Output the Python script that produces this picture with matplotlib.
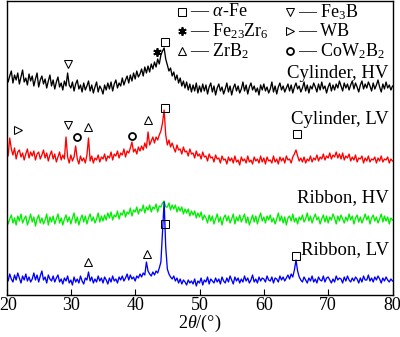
import numpy as np
import matplotlib
matplotlib.use("Agg")
import matplotlib.pyplot as plt
from matplotlib.transforms import ScaledTranslation

plt.rcParams['font.family'] = ['Liberation Serif', 'DejaVu Serif']
plt.rcParams['mathtext.fontset'] = 'custom'
plt.rcParams['mathtext.rm'] = 'Liberation Serif'
plt.rcParams['mathtext.it'] = 'Liberation Serif:italic'

# 2-theta grid (0.25 deg step, 20..80)
two_theta = np.linspace(20, 80, 241)

# intensities (arbitrary units, stacked offsets included)
cyl_hv = [
    221, 213, 219, 224, 212, 220, 215, 222, 211, 218, 225, 213, 217, 210, 221, 214,
    219, 209, 216, 222, 208, 215, 219, 211, 216, 207, 214, 220, 209, 215, 206, 213,
    218, 208, 212, 205, 214, 209, 222, 210, 207, 213, 204, 211, 215, 206, 210, 203,
    212, 205, 209, 214, 204, 210, 202, 208, 213, 203, 209, 206, 201, 210, 205, 212,
    206, 213, 204, 211, 215, 207, 212, 209, 217, 210, 215, 219, 212, 220, 214, 222,
    216, 224, 218, 221, 226, 219, 228, 222, 229, 223, 231, 226, 233, 228, 236, 231,
    240, 244, 247, 236, 230, 224, 227, 219, 223, 215, 220, 212, 217, 209, 214, 207,
    213, 205, 211, 203, 210, 204, 212, 202, 209, 203, 211, 204, 210, 201, 208, 212,
    203, 209, 200, 207, 211, 204, 208, 201, 206, 212, 203, 209, 200, 207, 211, 204,
    209, 202, 206, 213, 204, 210, 201, 208, 212, 205, 209, 203, 207, 200, 210, 205,
    211, 204, 208, 202, 206, 213, 203, 209, 201, 208, 212, 205, 209, 203, 207, 211,
    204, 210, 202, 208, 212, 206, 209, 203, 207, 213, 204, 210, 202, 209, 206, 212,
    208, 203, 211, 205, 213, 206, 209, 202, 208, 212, 204, 210, 205, 211, 207, 214,
    209, 204, 212, 207, 211, 205, 210, 214, 206, 212, 208, 203, 210, 214, 206, 211,
    207, 213, 209, 204, 212, 206, 210, 215, 208, 203, 211, 206, 213, 207, 210, 205,
    209]

cyl_lv = [
    144, 139, 157, 146, 140, 147, 136, 143, 145, 138, 142, 135, 141, 146, 137, 143,
    139, 144, 135, 141, 143, 136, 140, 145, 137, 142, 134, 140, 144, 136, 141, 133,
    138, 143, 135, 140, 136, 158, 138, 132, 140, 134, 138, 149, 136, 131, 139, 134,
    137, 132, 140, 157, 134, 139, 132, 137, 135, 140, 133, 138, 136, 141, 134, 139,
    137, 143, 135, 141, 139, 144, 137, 142, 140, 146, 138, 144, 142, 147, 153, 143,
    146, 141, 148, 144, 149, 145, 152, 147, 163, 150, 154, 158, 152, 158, 155, 160,
    164, 172, 185, 160, 150, 155, 148, 152, 147, 143, 150, 145, 146, 141, 148, 143,
    144, 139, 146, 141, 142, 137, 144, 139, 141, 136, 143, 138, 139, 134, 141, 137,
    138, 133, 140, 136, 137, 132, 139, 135, 136, 131, 138, 134, 137, 132, 139, 133,
    135, 130, 138, 134, 136, 132, 139, 133, 135, 131, 138, 134, 136, 132, 139, 133,
    137, 131, 138, 134, 135, 132, 139, 133, 136, 131, 138, 134, 137, 132, 139, 135,
    136, 132, 138, 141, 145, 139, 134, 137, 133, 138, 132, 136, 134, 139, 133, 137,
    135, 140, 134, 138, 136, 141, 135, 139, 137, 142, 136, 140, 138, 143, 137, 141,
    136, 142, 135, 139, 137, 141, 134, 138, 135, 140, 133, 137, 136, 139, 132, 137,
    134, 139, 133, 136, 135, 138, 132, 137, 134, 139, 133, 136, 135, 138, 132, 136,
    134]

rib_hv = [
    78, 71, 76, 80, 72, 77, 70, 79, 74, 81, 72, 76, 79, 70, 75, 81,
    73, 78, 69, 76, 80, 72, 77, 71, 75, 81, 70, 78, 73, 79, 71, 76,
    81, 72, 77, 70, 76, 80, 73, 78, 71, 77, 82, 72, 78, 70, 76, 80,
    73, 79, 71, 77, 81, 74, 78, 72, 76, 82, 73, 79, 74, 80, 75, 82,
    77, 83, 75, 80, 78, 84, 76, 82, 80, 85, 78, 83, 81, 87, 79, 85,
    83, 88, 81, 86, 84, 90, 82, 88, 85, 90, 83, 88, 86, 91, 83, 89,
    88, 92, 94, 88, 88, 92, 85, 90, 86, 90, 83, 88, 84, 88, 81, 86,
    82, 86, 79, 84, 80, 84, 77, 82, 78, 83, 75, 80, 77, 72, 80, 74,
    79, 71, 76, 81, 73, 78, 70, 77, 80, 74, 79, 72, 76, 81, 71, 78,
    74, 80, 73, 77, 81, 72, 78, 70, 75, 80, 73, 79, 71, 77, 82, 74,
    78, 72, 79, 75, 80, 73, 77, 71, 76, 82, 74, 79, 72, 78, 70, 77,
    79, 74, 81, 73, 77, 71, 78, 75, 80, 73, 76, 82, 74, 79, 72, 77,
    81, 75, 78, 71, 76, 80, 73, 79, 72, 78, 75, 81, 77, 71, 79, 74,
    80, 76, 72, 78, 74, 81, 75, 79, 71, 77, 80, 73, 78, 72, 76, 81,
    75, 79, 71, 77, 80, 74, 78, 72, 76, 81, 73, 79, 74, 78, 71, 77,
    75]

rib_lv = [
    19, 14, 21, 16, 13, 20, 15, 22, 17, 12, 19, 15, 21, 14, 18, 13,
    16, 22, 15, 20, 13, 19, 24, 15, 18, 12, 20, 16, 14, 19, 13, 17,
    20, 13, 16, 11, 17, 14, 19, 12, 15, 10, 18, 13, 16, 12, 19, 14,
    11, 17, 15, 23, 14, 18, 12, 16, 13, 19, 14, 17, 12, 18, 15, 11,
    17, 13, 19, 14, 16, 12, 18, 15, 19, 14, 17, 21, 15, 20, 16, 18,
    14, 19, 17, 21, 18, 22, 20, 33, 24, 21, 19, 23, 20, 24, 22, 27,
    33, 62, 93, 48, 26, 21, 18, 16, 19, 14, 17, 12, 16, 11, 15, 13,
    10, 15, 12, 14, 11, 16, 9, 14, 12, 17, 10, 15, 13, 18, 11, 16,
    14, 12, 17, 13, 16, 11, 18, 14, 12, 17, 13, 19, 15, 11, 18, 14,
    17, 12, 16, 13, 19, 14, 17, 12, 15, 20, 13, 16, 12, 18, 14, 17,
    16, 13, 19, 15, 14, 18, 12, 17, 16, 13, 19, 15, 18, 14, 17, 20,
    16, 21, 18, 25, 35, 24, 18, 15, 13, 18, 15, 12, 17, 14, 19, 13,
    16, 12, 18, 15, 14, 19, 13, 17, 18, 15, 12, 16, 13, 19, 15, 17,
    16, 12, 18, 14, 19, 15, 13, 17, 14, 18, 16, 12, 17, 13, 19, 15,
    15, 20, 14, 17, 13, 18, 15, 19, 16, 12, 17, 14, 18, 15, 13, 16,
    14]

series_names = ["Cylinder, HV", "Cylinder, LV", "Ribbon, HV", "Ribbon, LV"]
series_colors = ["#000000", "#ff0000", "#00ee00", "#0000ff"]
label_y = [222, 176, 97, 45]

# phase markers: (2theta, height, marker)
markers_pts = [
    (29.6, 231, 'v'), (43.4, 243, '*'), (44.6, 253, 's'),
    (21.8, 165, '>'), (29.6, 170, 'v'), (31.0, 158, 'o'), (32.7, 168, '^'),
    (39.5, 159, 'o'), (42.0, 175, '^'), (44.6, 187, 's'), (65.2, 161, 's'),
    (32.7, 33, '^'), (41.9, 41, '^'), (44.6, 71, 's'), (65.0, 39, 's'),
]

legend_items = [
    ('s', r"— $\alpha$-Fe", 0, 0), ('*', r"— Fe$_{23}$Zr$_6$", 0, 1),
    ('^', r"— ZrB$_2$", 0, 2), ('v', r"— Fe$_3$B", 1, 0),
    ('>', r"— WB", 1, 1), ('o', r"— CoW$_2$B$_2$", 1, 2),
]

xticks = [20, 30, 40, 50, 60, 70, 80]

fig = plt.figure(figsize=(4.0, 3.37), dpi=100)
ax = fig.add_axes([6.5/400, 42/337, 386/400, 294/337])

for data, col in zip([cyl_hv, cyl_lv, rib_hv, rib_lv], series_colors):
    assert len(data) == len(two_theta)
    ax.plot(two_theta, data, color=col, lw=0.95)

for name, yy in zip(series_names, label_y):
    ax.text(79.4, yy, name, ha='right', va='center', fontsize=13.5)


def draw_marker(x, y, m):
    if m == '*':
        ax.plot([x], [y], marker=(6, 2, 0), ms=6, color='black', mec='black', mew=1.3, ls='none')
    elif m == 'o':
        ax.plot([x], [y], marker='o', ms=5, mfc='none', mec='black', mew=1.3, ls='none')
    else:
        ax.plot([x], [y], marker=m, ms=5.8, mfc='none', mec='black', mew=0.75, ls='none')


for x, y, m in markers_pts:
    draw_marker(x, y, m)

col_x = [47.3, 64.1]
row_y = [283, 264, 244]
for m, txt, c, r in legend_items:
    draw_marker(col_x[c], row_y[r], m)
    ax.text(col_x[c] + 1.2, row_y[r], txt, ha='left', va='center', fontsize=13)

ax.set_xlim(20, 80)
ax.set_ylim(0, 294)
ax.set_xticks(xticks)
ax.set_yticks([])
ax.tick_params(axis='x', direction='in', length=4, width=0.8, labelsize=13, pad=1.5)
for s in ax.spines.values():
    s.set_linewidth(1.0)
ax.set_xlabel(r"2$\theta$/(°)", fontsize=13, labelpad=-1)

# keep first tick label inside the figure
lbl0 = ax.get_xticklabels()[0]
lbl0.set_transform(lbl0.get_transform() + ScaledTranslation(2/100, 0, fig.dpi_scale_trans))

fig.savefig("out.png", dpi=100)
